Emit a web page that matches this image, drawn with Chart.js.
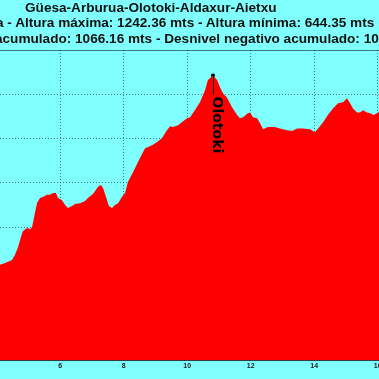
<!DOCTYPE html>
<html>
<head>
<meta charset="utf-8">
<script src="https://cdn.jsdelivr.net/npm/chart.js"></script>
<style>
	html, body { margin: 0; padding: 0; width: 379px; height: 379px; overflow: hidden; background: #80ffff; }
	#wrap { position: relative; width: 379px; height: 379px; overflow: hidden; }
	#perfil { position: absolute; left: 0; top: 0; }
	.tit { position: absolute; white-space: nowrap; font: bold 13.6px "Liberation Sans", Arial, sans-serif; line-height: 14px; color: #111; }
</style>
</head>
<body>
<div id="wrap">
	<canvas id="perfil" width="420" height="379"></canvas>
	<div class="tit" style="left:25px; top:1px;">Güesa-Arburua-Olotoki-Aldaxur-Aietxu</div>
	<div class="tit" style="left:-4px; top:16px;">a - Altura máxima: 1242.36 mts - Altura mínima: 644.35 mts</div>
	<div class="tit" style="left:-5px; top:32px;">acumulado: 1066.16 mts - Desnivel negativo acumulado: 10</div>
</div>
<script>
const km = [4.00, 4.10, 4.26, 4.35, 4.48, 4.57, 4.67, 4.76, 4.82, 4.95, 5.05, 5.11, 5.20, 5.27, 5.36, 5.45, 5.58, 5.68, 5.77, 5.86,
	5.93, 6.05, 6.15, 6.24, 6.37, 6.46, 6.62, 6.78, 6.87, 7.03, 7.19, 7.28, 7.35, 7.44, 7.53, 7.63, 7.72, 7.82, 7.94, 8.04,
	8.13, 8.29, 8.51, 8.67, 8.89, 9.05, 9.20, 9.36, 9.46, 9.55, 9.71, 9.83, 9.99, 10.09, 10.24, 10.40, 10.56, 10.65, 10.81, 10.94,
	11.03, 11.13, 11.25, 11.41, 11.57, 11.66, 11.76, 11.91, 11.98, 12.07, 12.20, 12.29, 12.39, 12.54, 12.76, 12.92, 13.14, 13.30, 13.46, 13.65,
	13.87, 14.02, 14.12, 14.28, 14.43, 14.59, 14.75, 14.91, 15.03, 15.13, 15.22, 15.35, 15.44, 15.54, 15.66, 15.76, 15.88, 16.01, 16.14];
const altura = [812, 815, 819, 822, 826, 837, 855, 878, 891, 898, 896, 900, 932, 955, 966, 968, 973, 973, 977, 977,
	966, 961, 950, 943, 948, 952, 954, 959, 966, 975, 991, 995, 988, 968, 948, 943, 950, 954, 968, 977,
	1002, 1024, 1056, 1078, 1085, 1092, 1101, 1119, 1128, 1126, 1130, 1137, 1146, 1148, 1164, 1182, 1209, 1232, 1242.36, 1232,
	1216, 1202, 1193, 1171, 1153, 1146, 1148, 1157, 1159, 1148, 1146, 1135, 1121, 1126, 1126, 1123, 1119, 1117, 1123, 1123,
	1121, 1114, 1123, 1137, 1153, 1168, 1180, 1182, 1191, 1180, 1168, 1159, 1159, 1164, 1159, 1157, 1153, 1159, 1164];

const waypoints = ['Olotoki'];
const waypointKm = [10.81];
const waypointAltura = [1242.36];

const xTicks = [6, 8, 10, 12, 14, 16];
const yTicks = [600, 700, 800, 900, 1000, 1100, 1200, 1300];

// etiqueta vertical del waypoint
const waypointLabels = {
	id: 'waypointLabels',
	afterDatasetsDraw(chart) {
		const ctx = chart.ctx;
		const meta = chart.getDatasetMeta(1);
		meta.data.forEach((pt, i) => {
			ctx.save();
			ctx.strokeStyle = '#000';
			ctx.lineWidth = 1;
			ctx.beginPath();
			ctx.moveTo(Math.round(pt.x) + 0.5, pt.y);
			ctx.lineTo(Math.round(pt.x) + 0.5, pt.y + 20);
			ctx.stroke();
			ctx.translate(pt.x, pt.y + 21);
			ctx.rotate(Math.PI / 2);
			ctx.fillStyle = '#000';
			ctx.font = 'bold 14px "DejaVu Sans"';
			ctx.textAlign = 'left';
			ctx.textBaseline = 'alphabetic';
			ctx.fillText(waypoints[i], 0, 0);
			ctx.restore();
		});
	}
};

const gridColor = 'rgba(0,0,0,0.5)';

new Chart(document.getElementById('perfil'), {
	type: 'line',
	data: {
		datasets: [{
			data: km.map((k, i) => ({x: k, y: altura[i]})),
			backgroundColor: '#ff0000',
			borderColor: '#ff0000',
			borderWidth: 0,
			pointRadius: 0,
			fill: 'start',
			tension: 0
		}, {
			data: waypointKm.map((k, i) => ({x: k, y: waypointAltura[i]})),
			showLine: false,
			fill: false,
			pointRadius: 2,
			pointBackgroundColor: '#000',
			pointBorderColor: '#000',
			pointBorderWidth: 0
		}]
	},
	options: {
		responsive: false,
		animation: false,
		layout: { autoPadding: false, padding: { top: 50, left: 0, right: 0, bottom: 0 } },
		plugins: { legend: { display: false }, tooltip: { enabled: false } },
		scales: {
			x: {
				type: 'linear',
				min: 4.10,
				max: 4.10 + 420 / 31.74,
				z: 1,
				afterBuildTicks: axis => { axis.ticks = xTicks.map(v => ({value: v})); },
				afterFit: axis => {
					axis.height = 19;
					axis.paddingLeft = 0;
					axis.paddingRight = 0;
				},
				grid: { color: gridColor, drawTicks: false },
				border: { display: false, dash: [1, 2] },
				ticks: {
					padding: 2,
					color: '#222',
					font: { family: '"Liberation Sans", Arial', size: 7, weight: 'bold' }
				}
			},
			y: {
				min: 600,
				max: 1300,
				z: 1,
				afterBuildTicks: axis => { axis.ticks = yTicks.map(v => ({value: v})); },
				afterFit: axis => {
					axis.width = 0;
					axis.paddingTop = 0;
					axis.paddingBottom = 0;
				},
				grid: {
					drawTicks: false,
					color: c => c.tick && c.tick.value === 600 ? 'rgba(40,40,40,0.9)' : gridColor
				},
				border: {
					display: false,
					dash: c => c.tick && (c.tick.value === 600 || c.tick.value === 1300) ? [] : [1, 2]
				},
				ticks: { display: false }
			}
		}
	},
	plugins: [waypointLabels]
});
</script>
</body>
</html>
